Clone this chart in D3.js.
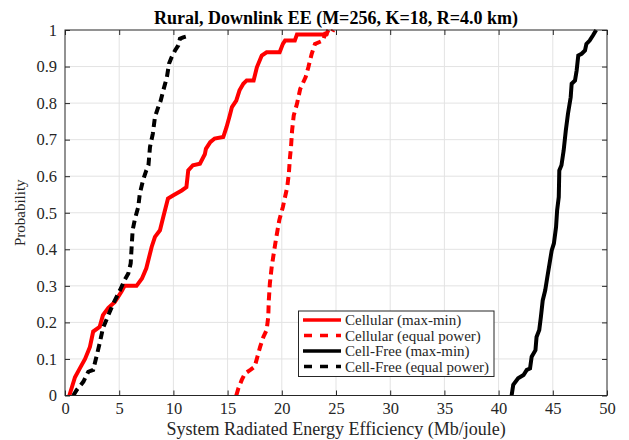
<!DOCTYPE html>
<html><head><meta charset="utf-8">
<script src="https://cdn.jsdelivr.net/npm/d3@7"></script>
<style>body{margin:0;background:#fff}svg{display:block}</style>
</head><body>
<script>
const titleText = "Rural, Downlink EE (M=256, K=18, R=4.0 km)";
const xLabel = "System Radiated Energy Efficiency (Mb/joule)";
const yLabel = "Probability";
const xTicks = [0,5,10,15,20,25,30,35,40,45,50];
const yTicks = [0,0.1,0.2,0.3,0.4,0.5,0.6,0.7,0.8,0.9,1];
const seriesNames = ["Cellular (max-min)","Cellular (equal power)","Cell-Free (max-min)","Cell-Free (equal power)"];
const seriesColors = ["#ff0000","#ff0000","#000000","#000000"];
const seriesDashed = [false,true,false,true];

const cellularMaxMin = [[0.4,0],[0.92,0.05],[1.38,0.075],[1.85,0.1],[2.3,0.133],[2.6,0.175],[3.2,0.188],[3.5,0.22],[4.0,0.24],[4.6,0.256],[5.2,0.284],[5.5,0.3],[6.6,0.3],[7.1,0.32],[7.5,0.348],[8.0,0.407],[8.3,0.434],[8.76,0.452],[9.07,0.489],[9.5,0.539],[10.0,0.548],[10.77,0.561],[11.2,0.57],[11.37,0.616],[11.8,0.63],[12.45,0.634],[12.9,0.66],[13.0,0.675],[13.4,0.693],[13.8,0.703],[14.6,0.707],[14.9,0.734],[15.2,0.766],[15.4,0.789],[15.8,0.807],[16.1,0.835],[16.45,0.853],[16.76,0.862],[17.4,0.862],[17.7,0.898],[18.15,0.93],[18.6,0.939],[19.8,0.939],[20.1,0.962],[20.3,0.971],[21.2,0.971],[21.4,0.988],[24.1,0.988],[24.3,1.0]];
const cellularEqual = [[15.8,0],[16.0,0.02],[16.3,0.042],[16.6,0.06],[17.1,0.07],[17.5,0.079],[17.75,0.106],[18.0,0.133],[18.3,0.16],[18.6,0.179],[18.75,0.215],[18.8,0.26],[18.9,0.307],[19.07,0.352],[19.3,0.397],[19.5,0.434],[19.77,0.48],[20.1,0.516],[20.3,0.543],[20.5,0.57],[20.65,0.607],[20.75,0.65],[20.85,0.68],[20.95,0.725],[21.1,0.766],[21.4,0.798],[21.7,0.839],[22.2,0.871],[22.45,0.898],[22.76,0.935],[23.06,0.962],[23.8,0.971],[24.0,0.99],[24.6,0.991],[24.75,1.0]];
const cellFreeMaxMin = [[41.2,0],[41.35,0.029],[41.8,0.047],[42.3,0.056],[42.6,0.07],[42.9,0.074],[43.05,0.106],[43.4,0.124],[43.5,0.16],[43.75,0.179],[43.9,0.215],[44.07,0.26],[44.3,0.288],[44.5,0.325],[44.7,0.361],[44.9,0.397],[45.1,0.416],[45.3,0.461],[45.4,0.507],[45.55,0.543],[45.6,0.616],[45.8,0.63],[46.0,0.67],[46.2,0.725],[46.4,0.771],[46.65,0.816],[46.74,0.853],[47.05,0.862],[47.2,0.889],[47.35,0.93],[47.66,0.935],[47.97,0.944],[48.1,0.962],[48.4,0.971],[48.7,0.985],[49.0,1.0]];
const cellFreeEqual = [[0.77,0],[1.08,0.015],[1.7,0.038],[2.15,0.065],[2.6,0.07],[2.9,0.106],[3.2,0.143],[3.5,0.184],[4.0,0.22],[4.46,0.252],[5.07,0.288],[5.5,0.316],[5.84,0.334],[6.06,0.361],[6.15,0.407],[6.24,0.452],[6.46,0.484],[6.76,0.516],[6.9,0.552],[7.2,0.589],[7.5,0.616],[7.7,0.63],[7.84,0.68],[8.1,0.716],[8.3,0.762],[8.6,0.789],[8.83,0.807],[9.07,0.835],[9.4,0.871],[9.6,0.908],[9.84,0.926],[10.15,0.944],[10.45,0.958],[10.6,0.976],[10.9,0.98],[11.15,0.982]];
const allSeries = [cellularMaxMin, cellularEqual, cellFreeMaxMin, cellFreeEqual];

const W = 629, H = 440;
const m = {left:65, right:22, top:30, bottom:44.5};
const svg = d3.select("body").append("svg").attr("width",W).attr("height",H);
const x = d3.scaleLinear().domain([0,50]).range([m.left, W-m.right]);
const y = d3.scaleLinear().domain([0,1]).range([H-m.bottom, m.top]);
const font = "'Liberation Serif','Times New Roman',serif";

// grid
const g = svg.append("g");
g.selectAll(".gx").data(xTicks.slice(1,-1)).join("line")
  .attr("x1",d=>x(d)).attr("x2",d=>x(d)).attr("y1",y(0)).attr("y2",y(1))
  .attr("stroke","#e3e3e3").attr("stroke-width",1);
g.selectAll(".gy").data(yTicks.slice(1,-1)).join("line")
  .attr("y1",d=>y(d)).attr("y2",d=>y(d)).attr("x1",x(0)).attr("x2",x(50))
  .attr("stroke","#e3e3e3").attr("stroke-width",1);

// lines
const line = d3.line().x(d=>x(d[0])).y(d=>y(d[1]));
const clip = svg.append("clipPath").attr("id","c").append("rect")
  .attr("x",x(0)).attr("y",y(1)-3).attr("width",x(50)-x(0)).attr("height",y(0)-y(1)+3);
allSeries.forEach((s,i)=>{
  svg.append("path").datum(s).attr("d",line).attr("fill","none")
    .attr("clip-path","url(#c)")
    .attr("stroke",seriesColors[i]).attr("stroke-width",4)
    .attr("stroke-dasharray",seriesDashed[i]?"8,5":null);
});

// axes
function styleAxis(sel){
  sel.select(".domain").remove();
  sel.selectAll("line").attr("stroke","#262626");
  sel.selectAll("text").attr("font-family",font).attr("font-size",16.5).attr("fill","#262626");
}
svg.append("g").attr("transform",`translate(0,${y(0)})`)
  .call(d3.axisBottom(x).tickValues(xTicks).tickFormat(d3.format("d")).tickSizeInner(-5).tickSizeOuter(0).tickPadding(7))
  .call(styleAxis);
svg.append("g").attr("transform",`translate(0,${y(1)})`)
  .call(d3.axisTop(x).tickValues(xTicks).tickFormat("").tickSizeInner(-5).tickSizeOuter(0))
  .call(styleAxis);
svg.append("g").attr("transform",`translate(${x(0)},0)`)
  .call(d3.axisLeft(y).tickValues(yTicks).tickFormat(d=>d===0||d===1?d3.format("d")(d):d3.format(".1f")(d)).tickSizeInner(-5).tickSizeOuter(0).tickPadding(8))
  .call(styleAxis);
svg.append("g").attr("transform",`translate(${x(50)},0)`)
  .call(d3.axisRight(y).tickValues(yTicks).tickFormat("").tickSizeInner(-5).tickSizeOuter(0))
  .call(styleAxis);
svg.append("rect").attr("x",x(0)).attr("y",y(1)).attr("width",x(50)-x(0)).attr("height",y(0)-y(1))
  .attr("fill","none").attr("stroke","#262626").attr("stroke-width",1);

// title & labels
svg.append("text").attr("x",(x(0)+x(50))/2).attr("y",23.5).attr("text-anchor","middle")
  .attr("font-family",font).attr("font-weight","bold").attr("font-size",18).text(titleText);
svg.append("text").attr("x",(x(0)+x(50))/2).attr("y",435).attr("text-anchor","middle")
  .attr("font-family",font).attr("font-size",18).attr("fill","#262626").text(xLabel);
svg.append("text").attr("transform",`translate(25,${(y(0)+y(1))/2}) rotate(-90)`).attr("text-anchor","middle")
  .attr("font-family",font).attr("font-size",15).attr("fill","#262626").text(yLabel);

// legend
const lg = svg.append("g");
lg.append("rect").attr("x",298.5).attr("y",311).attr("width",195.5).attr("height",65.5)
  .attr("fill","#fff").attr("stroke","#262626").attr("stroke-width",1);
seriesNames.forEach((n,i)=>{
  const yy = 320 + i*15.5;
  lg.append("line").attr("x1",303).attr("x2",341).attr("y1",yy).attr("y2",yy)
    .attr("stroke",seriesColors[i]).attr("stroke-width",3.5)
    .attr("stroke-dasharray",seriesDashed[i]?"8,8":null).attr("stroke-dashoffset",seriesDashed[i]?-1:0);
  lg.append("text").attr("x",345).attr("y",yy+5).attr("font-family",font).attr("font-size",15)
    .attr("fill","#262626").text(n);
});
</script>
</body></html>
